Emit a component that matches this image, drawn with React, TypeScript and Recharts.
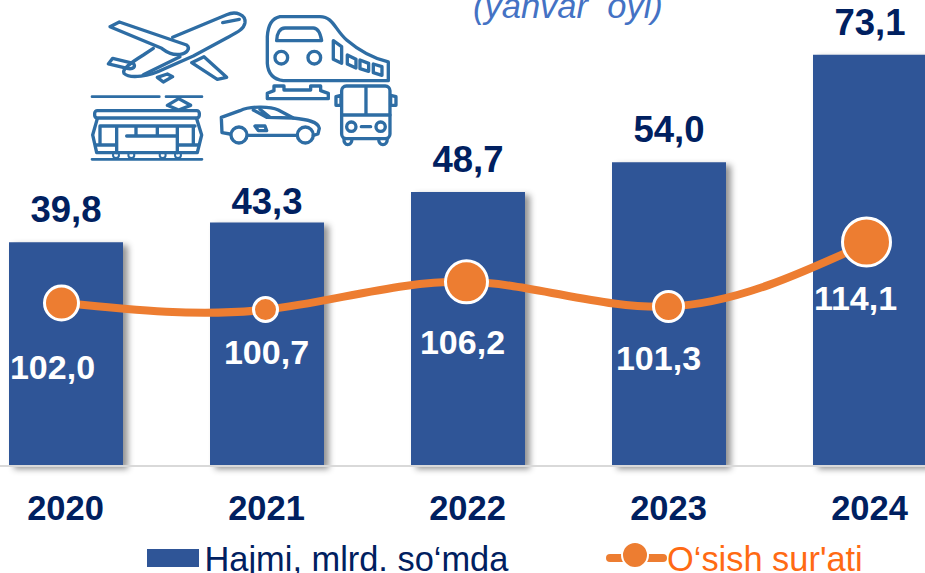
import React from "react";
import { ComposedChart, Bar, Line, XAxis, YAxis, LabelList, Legend, Rectangle } from "recharts";

const years = ["2020", "2021", "2022", "2023", "2024"];
const volume = [39.8, 43.3, 48.7, 54.0, 73.1];
const growth = [102.0, 100.7, 106.2, 101.3, 114.1];
const dotRadius = [17, 12, 21, 15, 24];
const dotDx = [-4, -1, -1, 0, -3];
const volumeLabelGap = [20, 8, 20, 20, 20];
const growthLabelDx = [-13, 0, -5, -10, -14];
const growthLabelDy = [64, 42, 60, 51, 56];
const table = years.map((year, i) => ({ year, volume: volume[i], growth: growth[i] }));

const NAVY = "#002060";
const BAR = "#2F5597";
const ORANGE = "#ED7D31";
const ICON = "#2E6DA4";
const FONT = "'Liberation Sans', Arial, sans-serif";
const fmt = (v: number) => v.toFixed(1).replace(".", ",");

const BarShape = (p: any) => (
  <Rectangle {...p} style={{ filter: "drop-shadow(5px 3px 3px rgba(0,0,0,0.42))" }} />
);

const GrowthDot = (p: any) => (
  <circle cx={p.cx + dotDx[p.index]} cy={p.cy} r={dotRadius[p.index]} fill={ORANGE} stroke="#fff" strokeWidth={3} />
);

const VolumeLabel = (p: any) => (
  <text x={p.x + p.width / 2} y={p.y - volumeLabelGap[p.index]} textAnchor="middle" fontFamily={FONT} fontWeight={700} fontSize={36.5} fill={NAVY}>
    {fmt(p.value)}
  </text>
);

const GrowthLabel = (p: any) => (
  <text x={p.x + growthLabelDx[p.index]} y={p.y + growthLabelDy[p.index] + 12} textAnchor="middle" fontFamily={FONT} fontWeight={700} fontSize={34} fill="#fff">
    {fmt(p.value)}
  </text>
);

const LegendContent = () => (
  <svg width={1005} height={47} style={{ display: "block", overflow: "visible" }}>
    <g transform="translate(35,-526)">
      <rect x={147} y={549} width={52} height={18} fill={BAR} />
      <text x={204.5} y={570.5} fontFamily={FONT} fontSize={34.4} fill={NAVY}>Hajmi, mlrd. so‘mda</text>
      <line x1={610} x2={663} y1={558} y2={558} stroke={ORANGE} strokeWidth={8} strokeLinecap="round" />
      <circle cx={635} cy={555} r={13} fill={ORANGE} stroke="#fff" strokeWidth={2} />
      <text x={667} y={570.5} fontFamily={FONT} fontSize={34.4} fill="#FF6A13">O‘sish sur'ati</text>
    </g>
  </svg>
);

const Icons = () => (
  <g transform="translate(80,0) scale(0.3333)" fill="none" stroke={ICON} strokeWidth={10} strokeLinejoin="round" strokeLinecap="round">
    {/* plane */}
    <path d="M278,112 L440,44 C468,32 498,44 495,68 C492,88 470,98 440,114 L340,168 L250,208 C210,228 150,238 132,220 C125,208 150,190 190,165 L220,145" />
    <path d="M90,80 L118,66 L320,135 C332,145 322,160 300,163 C280,166 262,158 245,145 Z" />
    <path d="M85,192 L98,175 L160,190 C168,200 160,208 145,206 Z" />
    <path d="M335,188 L372,170 L440,232 L412,238 Z" />
    <path d="M232,232 L262,222 L278,230 L250,246 Z" />
    <path d="M428,68 L478,58 M190,224 L300,170" />
    {/* train */}
    <path d="M600,50 L720,50 C760,50 765,90 800,120 C835,150 880,175 925,186 L925,242 L610,242 C580,238 564,220 562,190 L562,110 C564,75 575,55 600,50 Z" />
    <path d="M590,122 C590,100 600,84 615,84 L700,84 C715,84 722,105 725,122 Z" />
    <circle cx={604} cy={173} r={19} />
    <circle cx={703} cy={173} r={19} />
    <path d="M760,122 L785,140 L785,190 L760,178 Z" />
    <path d="M802,165 L828,178 L828,204 L802,192 Z" />
    <path d="M840,180 L866,190 L866,214 L840,206 Z" />
    <path d="M880,192 L906,200 L906,226 L880,218 Z" />
    <path d="M562,296 L562,280 L582,272 L582,258 L612,258 L612,270 L692,270 L692,258 L722,258 L722,272 L745,280 L745,296 Z" />
    {/* bus */}
    <rect x={785} y={258} width={145} height={158} rx={14} />
    <path d="M858,262 L858,345 M785,345 L930,345 M768,290 L768,316 L783,316 L783,286 Z M948,290 L948,316 L932,316 L932,286 Z" />
    <circle cx={814} cy={380} r={14} />
    <circle cx={902} cy={380} r={14} />
    <path d="M844,380 L872,380 M792,416 C790,440 816,440 816,416 M896,416 C896,440 922,440 922,416" />
    {/* car */}
    <path d="M450,402 L426,398 L424,352 L480,332 C510,318 570,318 595,330 L640,354 C680,358 715,365 718,385 L714,402 L700,406 M650,406 L505,406" />
    <circle cx={477} cy={405} r={24} />
    <circle cx={676} cy={405} r={24} />
    <path d="M520,330 L560,352 L640,354 M540,328 L570,352 M525,378 L555,378 L560,392 L535,392 Z" />
    {/* tram */}
    <path d="M36,290 L238,290 M258,290 L366,290 M36,478 L366,478" strokeWidth={8} />
    <path d="M296,296 L262,316 L296,330 L332,316 Z" />
    <rect x={44} y={332} width={314} height={22} rx={8} />
    <path d="M52,356 L38,405 L50,458 L352,458 L365,405 L350,356" />
    <path d="M60,378 L345,378 M60,378 L60,435 M110,378 L110,458 M168,378 L168,408 M232,378 L232,408 M292,378 L292,458 M140,408 L292,408 M48,435 L110,435 M292,435 L356,435 M340,378 L340,435" />
    <circle cx={108} cy={465} r={9} strokeWidth={6} />
    <circle cx={154} cy={465} r={9} strokeWidth={6} />
    <circle cx={248} cy={465} r={9} strokeWidth={6} />
    <circle cx={294} cy={465} r={9} strokeWidth={6} />
  </g>
);

export default function App() {
  return (
    <div style={{ position: "absolute", left: 0, top: 0, width: 925, height: 573, overflow: "hidden", background: "#fff" }}>
      <div style={{ position: "absolute", left: -35, top: 0 }}>
        <ComposedChart width={1005} height={573} data={table} margin={{ top: 16, right: 0, bottom: 0, left: 0 }} barSize={114}>
          <XAxis
            dataKey="year"
            height={60}
            tickLine={false}
            axisLine={{ stroke: "#D9D9D9", strokeWidth: 2 }}
            tickMargin={24}
            tick={{ fontFamily: FONT, fontWeight: 700, fontSize: 34.5, fill: NAVY }}
          />
          <YAxis yAxisId="left" hide domain={[0, 80]} />
          <YAxis yAxisId="right" hide orientation="right" domain={[69.66, 158.95]} />
          <Legend height={47} verticalAlign="bottom" content={LegendContent} wrapperStyle={{ left: 0, bottom: 0, width: 1005, height: 47 }} />
          <Bar yAxisId="left" dataKey="volume" fill={BAR} shape={BarShape} isAnimationActive={false}>
            <LabelList dataKey="volume" content={VolumeLabel} />
          </Bar>
          <Line yAxisId="right" dataKey="growth" type="natural" stroke={ORANGE} strokeWidth={8} dot={GrowthDot} activeDot={false} isAnimationActive={false}>
            <LabelList dataKey="growth" content={GrowthLabel} />
          </Line>
        </ComposedChart>
      </div>
      <svg width={925} height={573} style={{ position: "absolute", left: 0, top: 0, pointerEvents: "none" }}>
        <text x={473} y={18} fontFamily={FONT} fontStyle="italic" fontSize={34.5} fill="#4472C4" xmlSpace="preserve">(yanvar  oyi)</text>
        <Icons />
      </svg>
    </div>
  );
}
